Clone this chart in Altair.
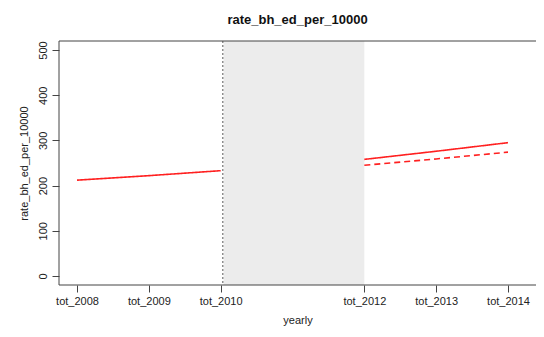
import altair as alt
import pandas as pd

years_pre = [2008, 2009, 2010]
rate_pre = [212, 222, 233]
years_post = [2012, 2013, 2014]
rate_post = [258, 276, 295]
rate_cf = [245, 259, 274]
tick_years = [2008, 2009, 2010, 2012, 2013, 2014]
y_ticks = [0, 100, 200, 300, 400, 500]
gap_start, gap_end = 2010.04, 2012
vline_x = 2010.03

W, H = 477, 244

df = pd.DataFrame(
    {"year": years_pre + years_post + years_post,
     "rate": rate_pre + rate_post + rate_cf,
     "seg": ["pre"] * 3 + ["post"] * 3 + ["cf"] * 3,
     "kind": ["obs"] * 6 + ["cf"] * 3}
)

xs = alt.Scale(domain=[2007.749, 2014.39], nice=False, zero=False)
ys = alt.Scale(domain=[-20, 520], nice=False, zero=False)

xax = alt.Axis(values=tick_years, labelExpr="'tot_' + format(datum.value, 'd')",
               grid=False, domain=False, tickColor="#444", tickSize=7,
               labelFontSize=11, labelColor="#222", labelPadding=3,
               title="yearly", titleFontSize=11, titleFontWeight="normal",
               titleColor="#222", titlePadding=8)
yax = alt.Axis(values=y_ticks, grid=False, domain=False, tickColor="#444", tickSize=7,
               labelAngle=270, labelAlign="center", labelBaseline="bottom",
               labelFontSize=11, labelColor="#222", labelPadding=4,
               title="rate_bh_ed_per_10000", titleFontSize=11, titleFontWeight="normal",
               titleColor="#222", titlePadding=8)

rect = alt.Chart(pd.DataFrame({"x": [gap_start], "x2": [gap_end]})).mark_rect(
    color="#ECECEC").encode(
    x=alt.X("x:Q", scale=xs, axis=xax),
    x2="x2:Q",
    y=alt.value(0), y2=alt.value(H))

vline = alt.Chart(pd.DataFrame({"x": [vline_x]})).mark_rule(
    color="#555", strokeDash=[2, 2], strokeWidth=1).encode(
    x=alt.X("x:Q", scale=xs))

frame_top = alt.Chart(pd.DataFrame({"a": [0]})).mark_rule(color="#444", strokeWidth=1).encode(
    x=alt.value(0), x2=alt.value(W), y=alt.value(0))
frame_bottom = alt.Chart(pd.DataFrame({"a": [0]})).mark_rule(color="#444", strokeWidth=1).encode(
    x=alt.value(0), x2=alt.value(W), y=alt.value(H))
frame_left = alt.Chart(pd.DataFrame({"a": [0]})).mark_rule(color="#444", strokeWidth=1).encode(
    x=alt.value(0), y=alt.value(0), y2=alt.value(H))

lines = alt.Chart(df).mark_line(color="#FF2020", strokeWidth=1.6).encode(
    x=alt.X("year:Q", scale=xs),
    y=alt.Y("rate:Q", scale=ys, axis=yax),
    detail="seg:N",
    strokeDash=alt.StrokeDash("kind:N", scale=alt.Scale(domain=["obs", "cf"],
                                                         range=[[1, 0], [6, 4]]),
                              legend=None))

chart = alt.layer(rect, vline, lines, frame_top, frame_bottom, frame_left).properties(
    width=W, height=H,
    autosize=alt.AutoSizeParams(type="none"),
    padding={"left": 51, "top": 33, "right": 0, "bottom": 44},
    title=alt.TitleParams("rate_bh_ed_per_10000", fontSize=13, fontWeight="bold",
                          anchor="middle", offset=14, color="#111",
                          font="Liberation Sans"),
).configure_view(stroke=None).configure_axis(
    labelFont="Liberation Sans", titleFont="Liberation Sans")

chart.save("out.html", embed_options={"renderer": "svg", "actions": False})
